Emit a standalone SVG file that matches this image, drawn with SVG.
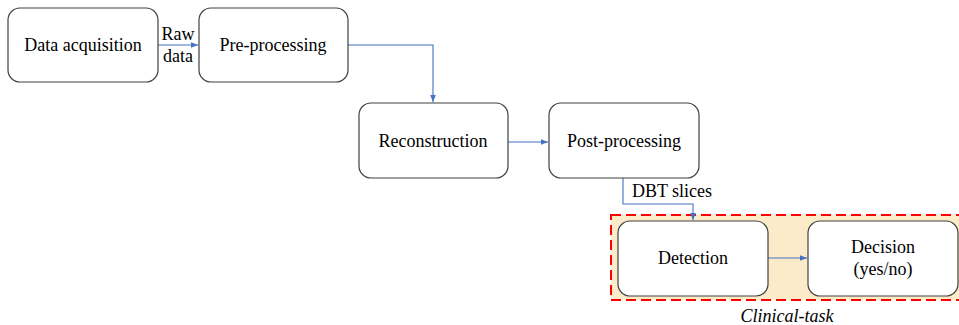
<svg xmlns="http://www.w3.org/2000/svg" width="959" height="325" viewBox="0 0 959 325">
<style>
.node{fill:#fff;stroke:#404040;stroke-width:1.2}
.lbl{font-family:"Liberation Serif","Times New Roman",serif;font-size:18px;fill:#000;text-anchor:middle}
.conn{fill:none;stroke:#4472C4;stroke-width:1.1}
</style>
<defs>
<marker id="ah" viewBox="0 0 10 10" refX="10" refY="5" markerWidth="7" markerHeight="7" markerUnits="userSpaceOnUse" orient="auto">
<path d="M0,1 L10,5 L0,9 z" fill="#4472C4"/>
</marker>
</defs>
<rect width="959" height="325" fill="#fff"/>
<g id="clinical-task">
<rect x="611" y="215" width="360" height="85" fill="#FCEBC9" stroke="#FF0000" stroke-width="2" stroke-dasharray="10,5"/>
<text class="lbl" x="787" y="322" font-style="italic">Clinical-task</text>
</g>
<g id="connectors">
<line class="conn" x1="158" y1="45" x2="198" y2="45" marker-end="url(#ah)"/>
<polyline class="conn" points="348,45 433,45 433,102" marker-end="url(#ah)"/>
<line class="conn" x1="508" y1="142" x2="548" y2="142" marker-end="url(#ah)"/>
<polyline class="conn" points="623,178 623,204 693,204 693,220" marker-end="url(#ah)"/>
<line class="conn" x1="768" y1="258" x2="807" y2="258" marker-end="url(#ah)"/>
<text class="lbl" x="178" y="40">Raw</text>
<text class="lbl" x="178" y="62">data</text>
<text class="lbl" x="672" y="197">DBT slices</text>
</g>
<g id="data-acquisition">
<rect class="node" x="8" y="8" width="150" height="74" rx="12"/>
<text class="lbl" x="83" y="51">Data acquisition</text>
</g>
<g id="pre-processing">
<rect class="node" x="199" y="8" width="149" height="74" rx="12"/>
<text class="lbl" x="273" y="51">Pre-processing</text>
</g>
<g id="reconstruction">
<rect class="node" x="359" y="103" width="149" height="75" rx="12"/>
<text class="lbl" x="433" y="147">Reconstruction</text>
</g>
<g id="post-processing">
<rect class="node" x="549" y="103" width="150" height="75" rx="12"/>
<text class="lbl" x="624" y="147">Post-processing</text>
</g>
<g id="detection">
<rect class="node" x="618" y="221" width="150" height="75" rx="12"/>
<text class="lbl" x="693" y="264">Detection</text>
</g>
<g id="decision">
<rect class="node" x="808" y="221" width="150" height="75" rx="12"/>
<text class="lbl" x="883" y="253">Decision</text>
<text class="lbl" x="883" y="275">(yes/no)</text>
</g>
</svg>
